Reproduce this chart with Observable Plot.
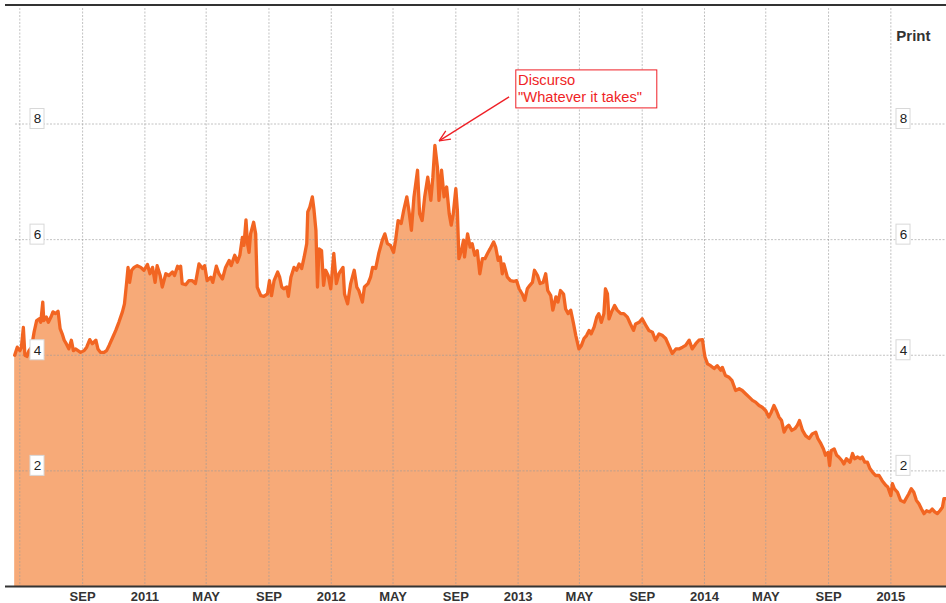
<!DOCTYPE html>
<html>
<head>
<meta charset="utf-8">
<script src="https://cdn.jsdelivr.net/npm/d3@7"></script>
<script src="https://cdn.jsdelivr.net/npm/@observablehq/plot@0.6"></script>
<style>
  html, body { margin: 0; padding: 0; background: #fff; }
  #chart svg { display: block; }
</style>
</head>
<body>
<div id="chart"></div>
<script>
// ---------- DATA ----------
const dates2010 = ["2010-04-21","2010-04-26","2010-05-01","2010-05-04","2010-05-08","2010-05-11","2010-05-15","2010-05-19","2010-05-24","2010-05-29","2010-06-03","2010-06-08","2010-06-11","2010-06-15","2010-06-17","2010-06-22","2010-06-26","2010-07-01","2010-07-05","2010-07-10","2010-07-15","2010-07-19","2010-07-23","2010-07-27","2010-07-31","2010-08-05","2010-08-10","2010-08-14","2010-08-18","2010-08-23","2010-08-28","2010-09-04","2010-09-09","2010-09-15","2010-09-20","2010-09-27","2010-10-01","2010-10-06","2010-10-13","2010-10-18","2010-10-23","2010-10-29","2010-11-05","2010-11-11","2010-11-18","2010-11-22","2010-11-26","2010-11-29","2010-12-02","2010-12-06","2010-12-11","2010-12-17","2010-12-24","2010-12-30"];
const yield2010 = [4.00,4.14,4.08,4.13,4.48,4.00,3.98,4.08,4.14,4.40,4.60,4.63,4.57,4.92,4.60,4.66,4.57,4.66,4.75,4.72,4.76,4.46,4.37,4.26,4.20,4.11,4.26,4.08,4.11,4.08,4.05,4.08,4.14,4.27,4.20,4.26,4.11,4.05,4.05,4.08,4.17,4.29,4.43,4.57,4.75,4.89,5.24,5.52,5.26,5.47,5.52,5.55,5.52,5.47];

const dates2011 = ["2011-01-06","2011-01-11","2011-01-16","2011-01-21","2011-01-25","2011-01-31","2011-02-04","2011-02-11","2011-02-17","2011-02-24","2011-02-28","2011-03-06","2011-03-10","2011-03-12","2011-03-15","2011-03-22","2011-03-28","2011-04-04","2011-04-10","2011-04-17","2011-04-24","2011-04-28","2011-05-03","2011-05-10","2011-05-14","2011-05-21","2011-05-26","2011-06-02","2011-06-08","2011-06-15","2011-06-19","2011-06-26","2011-07-01","2011-07-06","2011-07-11","2011-07-14","2011-07-18","2011-07-21","2011-07-24","2011-07-27","2011-08-02","2011-08-06","2011-08-09","2011-08-16","2011-08-22","2011-08-29","2011-09-02","2011-09-06","2011-09-11","2011-09-18","2011-09-22","2011-09-26","2011-09-30","2011-10-06","2011-10-09","2011-10-14","2011-10-20","2011-10-25","2011-10-30","2011-11-04","2011-11-09","2011-11-14","2011-11-16","2011-11-20","2011-11-25","2011-11-28","2011-12-02","2011-12-05","2011-12-08","2011-12-13","2011-12-17","2011-12-21","2011-12-26","2011-12-31"];
const yield2011 = [5.57,5.41,5.52,5.26,5.55,5.38,5.18,5.41,5.38,5.44,5.38,5.54,5.50,5.54,5.24,5.22,5.29,5.29,5.24,5.58,5.50,5.55,5.29,5.35,5.26,5.54,5.41,5.32,5.52,5.64,5.55,5.73,5.61,5.73,6.04,5.90,6.34,5.93,5.78,6.10,6.30,6.10,5.18,5.03,5.02,5.06,5.29,5.03,5.29,5.44,5.35,5.18,5.15,5.18,5.02,5.35,5.52,5.47,5.58,5.50,5.70,5.93,6.48,6.56,6.74,6.53,6.16,5.18,5.84,5.81,5.21,5.47,5.38,5.15];

const dates2012 = ["2012-01-06","2012-01-11","2012-01-16","2012-01-24","2012-01-27","2012-02-02","2012-02-08","2012-02-15","2012-02-20","2012-02-24","2012-03-02","2012-03-06","2012-03-13","2012-03-18","2012-03-22","2012-03-28","2012-04-03","2012-04-10","2012-04-15","2012-04-20","2012-04-26","2012-05-02","2012-05-06","2012-05-11","2012-05-17","2012-05-22","2012-05-28","2012-06-01","2012-06-06","2012-06-11","2012-06-18","2012-06-22","2012-06-27","2012-07-02","2012-07-08","2012-07-14","2012-07-18","2012-07-22","2012-07-27","2012-07-30","2012-08-04","2012-08-09","2012-08-14","2012-08-19","2012-08-23","2012-08-27","2012-09-01","2012-09-04","2012-09-07","2012-09-12","2012-09-16","2012-09-18","2012-09-24","2012-09-29","2012-10-03","2012-10-08","2012-10-13","2012-10-18","2012-10-23","2012-10-28","2012-11-02","2012-11-07","2012-11-14","2012-11-18","2012-11-23","2012-11-27","2012-12-01","2012-12-04","2012-12-11","2012-12-17","2012-12-24","2012-12-29"];
const yield2012 = [5.76,5.24,5.41,5.52,5.06,4.89,5.24,5.47,5.18,5.12,4.92,5.18,5.24,5.35,5.52,5.50,5.76,5.99,6.10,5.93,5.90,5.78,5.99,6.33,6.28,6.51,6.74,6.51,6.16,6.74,7.20,6.45,6.33,6.74,7.08,6.68,7.08,7.63,7.25,6.68,7.20,6.74,6.91,6.45,6.25,6.45,6.88,6.51,5.67,5.81,5.99,5.70,6.10,5.87,5.93,5.73,5.81,5.41,5.67,5.67,5.76,5.84,5.96,5.87,5.64,5.70,5.41,5.58,5.35,5.29,5.28,5.29];

const dates2013 = ["2013-01-03","2013-01-09","2013-01-14","2013-01-19","2013-01-24","2013-01-29","2013-02-02","2013-02-08","2013-02-13","2013-02-19","2013-02-24","2013-02-28","2013-03-06","2013-03-10","2013-03-16","2013-03-20","2013-03-25","2013-03-31","2013-04-04","2013-04-09","2013-04-14","2013-04-19","2013-04-24","2013-04-30","2013-05-05","2013-05-10","2013-05-15","2013-05-20","2013-05-24","2013-05-30","2013-06-04","2013-06-08","2013-06-13","2013-06-18","2013-06-21","2013-06-25","2013-06-28","2013-07-03","2013-07-09","2013-07-14","2013-07-21","2013-07-27","2013-08-03","2013-08-09","2013-08-15","2013-08-19","2013-08-26","2013-09-01","2013-09-08","2013-09-14","2013-09-21","2013-09-27","2013-10-04","2013-10-11","2013-10-17","2013-10-23","2013-10-30","2013-11-06","2013-11-12","2013-11-19","2013-11-25","2013-12-02","2013-12-08","2013-12-15","2013-12-21","2013-12-28","2013-12-31"];
const yield2013 = [5.15,5.06,4.95,5.15,5.21,5.26,5.47,5.38,5.24,5.26,5.41,5.12,5.03,4.78,5.01,4.92,5.12,5.06,4.80,4.72,4.78,4.57,4.34,4.11,4.17,4.29,4.34,4.43,4.37,4.49,4.66,4.72,4.57,4.72,5.15,5.06,4.63,4.75,4.86,4.78,4.72,4.72,4.66,4.54,4.43,4.54,4.57,4.63,4.52,4.43,4.40,4.26,4.37,4.34,4.29,4.17,4.03,4.11,4.11,4.14,4.17,4.26,4.11,4.20,4.26,4.27,4.08];

const dates2014 = ["2014-01-02","2014-01-07","2014-01-13","2014-01-20","2014-01-26","2014-02-02","2014-02-05","2014-02-11","2014-02-18","2014-02-24","2014-03-03","2014-03-10","2014-03-16","2014-03-23","2014-03-29","2014-04-05","2014-04-11","2014-04-18","2014-04-24","2014-05-01","2014-05-07","2014-05-12","2014-05-17","2014-05-22","2014-05-27","2014-06-01","2014-06-06","2014-06-11","2014-06-15","2014-06-21","2014-06-27","2014-07-02","2014-07-06","2014-07-12","2014-07-18","2014-07-25","2014-07-31","2014-08-07","2014-08-11","2014-08-17","2014-08-22","2014-08-26","2014-08-31","2014-09-03","2014-09-06","2014-09-12","2014-09-17","2014-09-21","2014-09-27","2014-10-01","2014-10-06","2014-10-13","2014-10-18","2014-10-22","2014-10-28","2014-11-02","2014-11-06","2014-11-11","2014-11-16","2014-11-21","2014-11-26","2014-12-02","2014-12-09","2014-12-15","2014-12-22","2014-12-26"];
const yield2014 = [3.97,3.85,3.82,3.77,3.82,3.74,3.79,3.65,3.62,3.56,3.39,3.42,3.39,3.33,3.28,3.22,3.19,3.13,3.10,3.04,2.93,3.02,3.13,3.04,2.93,2.87,2.67,2.76,2.79,2.70,2.73,2.79,2.87,2.70,2.61,2.56,2.64,2.67,2.56,2.47,2.38,2.27,2.32,2.09,2.35,2.38,2.27,2.24,2.18,2.12,2.21,2.15,2.30,2.21,2.24,2.21,2.24,2.15,2.15,2.04,1.98,1.92,1.92,1.83,1.75,1.72];

const dates2015 = ["2015-01-01","2015-01-04","2015-01-08","2015-01-14","2015-01-20","2015-01-27","2015-02-01","2015-02-05","2015-02-10","2015-02-15","2015-02-20","2015-02-25","2015-03-02","2015-03-07","2015-03-12","2015-03-18","2015-03-23","2015-03-28","2015-04-02","2015-04-07","2015-04-12","2015-04-15","2015-04-20"];
const yield2015 = [1.57,1.78,1.69,1.63,1.49,1.46,1.54,1.60,1.69,1.63,1.49,1.43,1.34,1.26,1.31,1.29,1.34,1.29,1.26,1.31,1.37,1.52,1.52];

// axis ticks
const gridDates = ["2010-05-01","2010-09-01","2011-01-01","2011-05-01","2011-09-01","2012-01-01","2012-05-01","2012-09-01","2013-01-01","2013-05-01","2013-09-01","2014-01-01","2014-05-01","2014-09-01","2015-01-01"];
const tickDates = ["2010-09-01","2011-01-01","2011-05-01","2011-09-01","2012-01-01","2012-05-01","2012-09-01","2013-01-01","2013-05-01","2013-09-01","2014-01-01","2014-05-01","2014-09-01","2015-01-01"];
const tickLabels = ["SEP","2011","MAY","SEP","2012","MAY","SEP","2013","MAY","SEP","2014","MAY","SEP","2015"];
const yTicks = [2, 4, 6, 8];
const xStart = "2010-04-03", xEnd = "2015-04-20";
const yMax = 10.05;

// annotation
const annotationDate = "2012-07-22";
const annotationValue = 7.63;
const annotationLines = ["Discurso", "\"Whatever it takes\""];
const printLabel = "Print";

// ---------- BUILD ----------
const series = [[dates2010, yield2010],[dates2011, yield2011],[dates2012, yield2012],[dates2013, yield2013],[dates2014, yield2014],[dates2015, yield2015]];
const data = [];
for (const [ds, vs] of series) {
  if (ds.length !== vs.length) console.warn("length mismatch", ds[0], ds.length, vs.length);
  const n = Math.min(ds.length, vs.length);
  for (let i = 0; i < n; i++) data.push({date: new Date(ds[i]), value: vs[i]});
}

const FONT = "'Liberation Sans', Arial, Helvetica, sans-serif";
const RED = "#ef1f26";
const GRID = "#9a9a9a";

function topBorder(index, scales, values, dim) {
  const g = d3.create("svg:g");
  g.append("line")
    .attr("x1", dim.marginLeft).attr("x2", dim.width - dim.marginRight)
    .attr("y1", dim.marginTop).attr("y2", dim.marginTop)
    .attr("stroke", "#333").attr("stroke-width", 2);
  return g.node();
}

function labelBoxes(index, scales, values, dim) {
  const g = d3.create("svg:g");
  for (const v of yTicks) {
    const cy = scales.y(v) - 5;
    for (const cx of [dim.marginLeft + 32, dim.width - dim.marginRight - 43]) {
      g.append("rect")
        .attr("x", cx - 7).attr("y", cy - 10)
        .attr("width", 14).attr("height", 20)
        .attr("fill", "#fff").attr("stroke", "#d8d8d8").attr("stroke-width", 1);
    }
  }
  return g.node();
}

function annotation(index, scales, values, dim) {
  const g = d3.create("svg:g");
  const px = scales.x(new Date(annotationDate));
  const py = scales.y(annotationValue);
  const tip = [px + 4.7, py - 4];
  const start = [px + 74.7, py - 48];
  g.append("line")
    .attr("x1", start[0]).attr("y1", start[1]).attr("x2", tip[0]).attr("y2", tip[1])
    .attr("stroke", RED).attr("stroke-width", 1.3);
  const ang = Math.atan2(start[1] - tip[1], start[0] - tip[0]);
  const L = 12, spread = 0.42;
  for (const s of [-spread, spread]) {
    g.append("line")
      .attr("x1", tip[0]).attr("y1", tip[1])
      .attr("x2", tip[0] + L * Math.cos(ang + s)).attr("y2", tip[1] + L * Math.sin(ang + s))
      .attr("stroke", RED).attr("stroke-width", 1.3);
  }
  g.append("rect")
    .attr("x", px + 81.4).attr("y", py - 75)
    .attr("width", 141).attr("height", 38)
    .attr("fill", "#fff").attr("stroke", RED).attr("stroke-width", 1);
  annotationLines.forEach((t, i) => {
    g.append("text")
      .attr("x", px + 83.7).attr("y", py - 59.5 + i * 17)
      .attr("fill", RED)
      .attr("text-anchor", "start")
      .attr("font-family", FONT).attr("font-size", 14.7)
      .text(t);
  });
  return g.node();
}

const chart = Plot.plot({
  width: 946,
  height: 603,
  marginLeft: 5,
  marginRight: 0,
  marginTop: 5,
  marginBottom: 17,
  style: {fontFamily: FONT, background: "#fff", overflow: "visible"},
  x: {type: "utc", domain: [new Date(xStart), new Date(xEnd)], axis: null},
  y: {domain: [0, yMax], axis: null},
  marks: [
    Plot.areaY(data, {x: "date", y: "value", fill: "#f7aa78"}),
    Plot.ruleX(gridDates.map(d => new Date(d)), {stroke: GRID, strokeOpacity: 0.6, strokeDasharray: "2,1.5", insetTop: 3}),
    Plot.ruleY(yTicks, {stroke: GRID, strokeOpacity: 0.6, strokeDasharray: "2,1.5", insetLeft: 10}),
    Plot.lineY(data, {x: "date", y: "value", stroke: "#f26522", strokeWidth: 3.3, strokeLinejoin: "round", strokeLinecap: "round"}),
    Plot.ruleY([0], {stroke: "#333", strokeWidth: 2}),
    topBorder,
    labelBoxes,
    Plot.text(yTicks, {y: d => d, frameAnchor: "left", dx: 32, dy: -5, textAnchor: "middle", lineAnchor: "middle", text: d => String(d), fontSize: 13.5, fill: "#222"}),
    Plot.text(yTicks, {y: d => d, frameAnchor: "right", dx: -43, dy: -5, textAnchor: "middle", lineAnchor: "middle", text: d => String(d), fontSize: 13.5, fill: "#222"}),
    Plot.text(tickDates, {x: d => new Date(d), frameAnchor: "bottom", dy: 10, lineAnchor: "middle", text: (d, i) => tickLabels[i], fontWeight: "bold", fontSize: 13, fill: "#333"}),
    Plot.text([printLabel], {frameAnchor: "top-right", dx: -16, dy: 31, textAnchor: "end", lineAnchor: "middle", text: d => d, fontWeight: "bold", fontSize: 15, fill: "#333"}),
    annotation
  ]
});

document.getElementById("chart").append(chart);
</script>
</body>
</html>
